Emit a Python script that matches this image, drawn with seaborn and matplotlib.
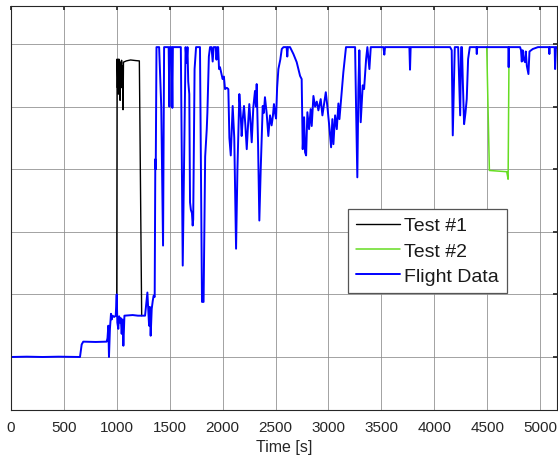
import numpy as np
import pandas as pd
import seaborn as sns
import matplotlib
matplotlib.use("Agg")
import matplotlib.pyplot as plt

# Flight data (blue) - time [s] and value
flight_t = [0, 150, 300, 450, 600, 652, 668, 683, 800, 904, 912, 920, 926, 935, 945,
            952, 960, 975, 990, 999, 1005, 1014, 1022, 1030, 1038, 1046, 1054, 1062,
            1072, 1150, 1200, 1267, 1289, 1305, 1312, 1320, 1330, 1340, 1348, 1358,
            1364, 1368, 1375, 1400, 1420, 1437, 1447, 1490, 1497, 1503, 1518, 1525,
            1530, 1605, 1623, 1650, 1660, 1668, 1675, 1685, 1692, 1700, 1710, 1717,
            1722, 1735, 1749, 1786, 1800, 1805, 1820, 1835, 1845, 1850, 1856, 1870,
            1881, 1895, 1906, 1915, 1935, 1942, 1950, 1958, 1966, 1975, 2000, 2012,
            2023, 2040, 2054, 2064, 2077, 2086, 2095, 2110, 2127, 2140, 2158, 2170,
            2180, 2190, 2202, 2215, 2228, 2240, 2252, 2262, 2275, 2290, 2306, 2315,
            2322, 2335, 2347, 2360, 2379, 2390, 2400, 2416, 2432, 2448, 2463, 2475,
            2485, 2495, 2505, 2515, 2527, 2545, 2559, 2575, 2605, 2611, 2617, 2637,
            2669, 2700, 2732, 2747, 2757, 2770, 2779, 2789, 2801, 2810, 2817, 2832,
            2842, 2858, 2874, 2890, 2905, 2918, 2927, 2943, 2959, 2975, 2990, 3009,
            3025, 3037, 3047, 3063, 3079, 3094, 3104, 3119, 3141, 3166, 3252, 3261,
            3273, 3283, 3292, 3305, 3324, 3337, 3356, 3368, 3387, 3400, 3520, 3528,
            3535, 3765, 3771, 3777, 4150, 4165, 4175, 4194, 4226, 4245, 4254, 4262,
            4270, 4282, 4295, 4307, 4320, 4336, 4398, 4402, 4406, 4700, 4703, 4707,
            4811, 4820, 4827, 4835, 4845, 4858, 4865, 4875, 4890, 4900, 4931, 4980,
            5084, 5088, 5092, 5138, 5142, 5150, 5160]
flight_y = [0.0, 0.005, 0.0, 0.005, 0.0, 0.0, 0.2, 0.245, 0.24, 0.245, 0.3, 0.5, 0.0,
            0.45, 0.69, 0.6, 0.66, 0.64, 0.66, 1.0, 0.55, 0.45, 0.65, 0.55, 0.62, 0.37,
            0.6, 0.18, 0.66, 0.67, 0.66, 0.66, 1.03, 0.5, 0.8, 0.34, 0.77, 0.9, 0.98,
            0.96, 3.16, 3.0, 4.95, 4.95, 4.0, 1.78, 4.95, 4.95, 4.0, 4.95, 4.95, 3.98,
            4.95, 4.95, 1.46, 4.95, 4.7, 4.95, 4.4, 4.2, 2.47, 2.35, 2.3, 2.1,
            2.2, 4.6, 4.95, 4.95, 2.0, 0.88, 0.88, 3.2, 3.5, 3.64, 3.9, 4.8,
            4.95, 4.95, 4.72, 4.95, 4.95, 4.75, 4.95, 4.95, 4.6, 4.63, 4.44, 4.48,
            4.28, 4.3, 4.28, 3.5, 3.22, 3.6, 4.01, 3.5, 1.73, 3.0, 4.2, 3.9,
            3.53, 3.8, 4.01, 3.7, 3.32, 3.7, 4.04, 3.8, 3.43, 3.99, 4.25, 4.0,
            4.36, 3.4, 2.18, 3.0, 4.01, 3.9, 4.15, 3.9, 3.53, 3.86, 3.7, 3.85,
            4.04, 3.9, 3.81, 4.3, 4.6, 4.75, 4.92, 4.95, 4.95, 4.8, 4.95, 4.95,
            4.84, 4.71, 4.49, 4.44, 3.32, 3.83, 3.27, 3.22, 3.91, 3.75, 3.64, 3.96,
            3.69, 4.17, 4.0, 4.08, 3.94, 4.05, 4.12, 3.86, 4.05, 4.23, 4.0, 3.67,
            3.35, 3.8, 3.4, 3.86, 3.64, 4.05, 3.8, 4.1, 4.55, 4.95, 4.95, 4.0,
            2.87, 4.28, 4.9, 3.75, 4.34, 4.28, 4.76, 4.95, 4.6, 4.95, 4.95, 4.83,
            4.95, 4.95, 4.59, 4.95, 4.95, 4.9, 3.54, 4.95, 4.95, 3.86, 4.95, 4.95,
            4.4, 3.72, 3.9, 4.12, 4.76, 4.95, 4.95, 4.84, 4.95, 4.95, 4.63, 4.95,
            4.95, 4.9, 4.72, 4.9, 4.75, 4.71, 4.88, 4.65, 4.52, 4.88, 4.92, 4.95,
            4.95, 4.84, 4.95, 4.95, 4.6, 4.95, 4.95]

# Test #1 (black)
test1_t = [999, 1003, 1007, 1011, 1015, 1019, 1023, 1027, 1031, 1035, 1040, 1045,
           1050, 1055, 1059, 1063, 1090, 1130, 1180, 1213, 1235]
test1_y = [0.66, 4.76, 4.3, 4.74, 4.2, 4.76, 4.35, 4.72, 4.1, 4.7, 4.45, 4.74,
           4.3, 4.65, 3.95, 4.71, 4.73, 4.745, 4.735, 4.73, 0.66]

# Test #2 (green)
test2_t = [4496, 4521, 4600, 4685, 4698, 4707]
test2_y = [4.95, 2.98, 2.97, 2.96, 2.84, 4.95]

x_ticks = [0, 500, 1000, 1500, 2000, 2500, 3000, 3500, 4000, 4500, 5000]

sns.set_theme(style="whitegrid")
plt.rcParams['font.family'] = ['Liberation Sans', 'DejaVu Sans']

fig = plt.figure(figsize=(5.58, 4.64), dpi=100)
ax = fig.add_axes([0.0197, 0.1142, 0.9785, 0.8707])

series = [
    ("Test #1", test1_t, test1_y, "#000000", 1.0),
    ("Test #2", test2_t, test2_y, "#66dd22", 1.1),
    ("Flight Data", flight_t, flight_y, "#0000ff", 1.4),
]
for label, t, y, color, lw in series:
    df = pd.DataFrame({"t": t, "y": y})
    sns.lineplot(data=df, x="t", y="y", ax=ax, color=color, linewidth=lw,
                 label=label, estimator=None, sort=False)

ax.set_xlim(0, 5160)
ax.set_ylim(-0.847, 5.607)
ax.set_xticks(x_ticks)
ax.set_yticks([0, 1, 2, 3, 4, 5])
ax.tick_params(axis="x", labelsize=11, colors="#262626", direction="in",
               length=3, pad=7, top=True)
ax.tick_params(axis="y", labelleft=False, direction="in", length=3,
               right=True, colors="#262626")
ax.set_xlabel("Time [s]", fontsize=11.5, color="#262626", labelpad=4)
ax.set_ylabel("")

ax.grid(True, color="#8a8a8a", linewidth=0.7, alpha=0.8)
ax.set_facecolor("white")
for s in ax.spines.values():
    s.set_visible(True)
    s.set_color("#262626")
    s.set_linewidth(0.8)

leg = ax.legend(loc="upper left", bbox_to_anchor=(0.617, 0.4975),
                borderaxespad=0, fontsize=14, fancybox=False, framealpha=1,
                edgecolor="#555555", handlelength=2.3, handletextpad=0.2,
                labelspacing=0.4, borderpad=0.4)
leg.get_frame().set_linewidth(0.9)
for txt in leg.get_texts():
    txt.set_color("#1a1a1a")

fig.savefig("out.png", dpi=100)
